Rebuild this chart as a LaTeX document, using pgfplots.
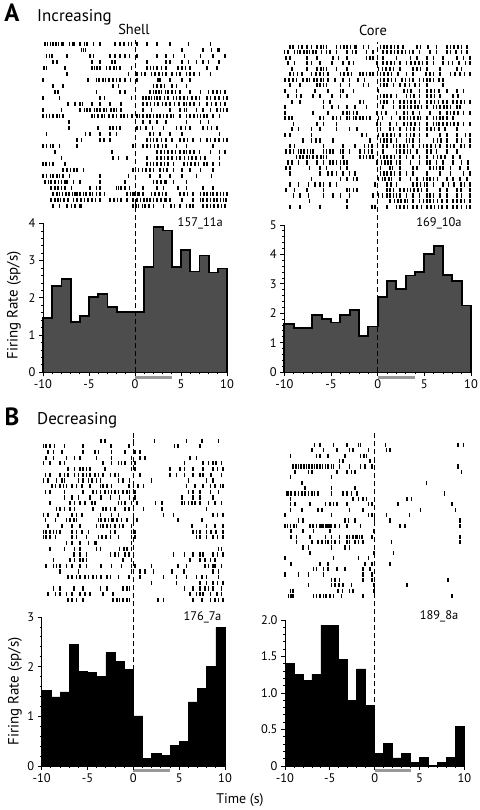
\documentclass[border=0pt]{standalone}
\usepackage{fontspec}
\setmainfont{PT Sans}
\usepackage{pgfplots}
\pgfplotsset{compat=1.18}
\definecolor{histgray}{HTML}{4D4D4D}
\definecolor{stimgray}{HTML}{999999}
\pgfplotsset{
 histax/.style={scale only axis, anchor=south west, axis x line*=bottom, axis y line*=left,
   axis line style={-, line width=0.8bp},
   xmin=-10, xmax=10, ymin=0, xtick={-10,-5,0,5,10}, minor x tick num=4, minor y tick num=4,
   tick align=outside, major tick length=4bp, minor tick length=2.2bp,
   every tick/.style={black, line width=0.8bp},
   ticklabel style={font=\fontsize{12.5}{13}\selectfont},
   /pgf/number format/assume math mode=true, clip=false, axis on top,
   ylabel style={font=\fontsize{15}{16}\selectfont, anchor=center}},
 rastax/.style={scale only axis, anchor=south west, axis lines=none, xmin=-10, xmax=10, y dir=reverse, clip=false},
 spk/.style={only marks, mark=|, mark size=2.1bp, line width=1.6bp, black},
 dashln/.style={black, line width=0.9bp, dash pattern=on 5bp off 3bp},
 stim/.style={stimgray, line width=3.5bp},
}
\begin{document}
\begin{tikzpicture}[x=1bp,y=1bp]
\useasboundingbox (0,0) rectangle (480,810);
% ---------- titles ----------
\node[font=\bfseries\fontsize{25}{25}\selectfont] at (12,797) {A};
\node[anchor=base west, inner sep=0, font=\fontsize{17}{17}\selectfont] at (37,788) {Increasing};
\node[font=\fontsize{14.5}{14.5}\selectfont] at (134,781) {Shell};
\node[font=\fontsize{14.5}{14.5}\selectfont] at (373,780) {Core};
\node[font=\bfseries\fontsize{25}{25}\selectfont] at (12,393) {B};
\node[anchor=base west, inner sep=0, font=\fontsize{17}{17}\selectfont] at (37,385) {Decreasing};
\node[font=\fontsize{14}{14}\selectfont] at (240,10) {Time (s)};

% ---------- A Shell raster ----------
\begin{axis}[rastax, at={(43bp,601.3bp)}, width=184bp, height=167.4bp, ymin=0.5, ymax=28.5]
\addplot[spk] coordinates {
(-9.8,1)(-9.5,1)(-9.2,1)(-8.9,1)(-8.6,1)(-8.3,1)(-8.0,1)(-7.8,1)(-7.1,1)(-6.8,1)(-6.6,1)(-6.0,1)(-5.5,1)(-5.2,1)(-4.5,1)(-3.8,1)(-2.2,1)(-1.6,1)(-1.2,1)(-0.7,1)(-0.4,1)(0.2,1)(1.3,1)(2.4,1)(3.8,1)(5.8,1)(8.2,1)
(-5.8,2)(-5.6,2)(-5.4,2)(5.1,2)(7.4,2)(8.3,2)(9.0,2)(9.2,2)
(-9.6,3)(-9.3,3)(-9.0,3)(-7.4,3)(-4.9,3)(-4.5,3)(-2.7,3)(-2.2,3)(-1.6,3)(-1.1,3)(-0.6,3)(0.2,3)(2.4,3)(3.4,3)(4.2,3)(5.4,3)(7.1,3)(8.5,3)(9.8,3)
(-8.9,4)(-8.5,4)(-4.7,4)(-3.8,4)(-2.5,4)(-2.2,4)(1.3,4)(3.4,4)(3.8,4)(5.1,4)(5.8,4)(6.7,4)(7.4,4)(8.0,4)(9.1,4)
(-9.9,5)(-9.6,5)(-7.6,5)(-4.7,5)(-4.4,5)(-4.1,5)(-3.8,5)(-3.1,5)(-2.7,5)(-2.3,5)(-2.0,5)(-1.6,5)(-0.4,5)(1.3,5)(1.7,5)(2.0,5)(2.4,5)(2.9,5)(3.4,5)(4.7,5)(5.1,5)(5.5,5)(6.0,5)(7.8,5)(8.9,5)
(-7.4,6)(-0.7,6)(0.2,6)(0.7,6)(1.1,6)(1.8,6)(2.2,6)(2.6,6)(3.0,6)(3.4,6)(4.0,6)(4.5,6)(4.9,6)(5.6,6)(6.0,6)(6.4,6)(7.0,6)(8.2,6)
(-10.0,7)(-5.1,7)(-4.2,7)(-3.9,7)(-3.5,7)(-3.2,7)(-2.8,7)(-2.4,7)(-2.0,7)(-1.6,7)(-1.1,7)(-0.5,7)(0.2,7)(2.5,7)(2.7,7)(3.8,7)(5.1,7)(6.0,7)
(-8.9,8)(-7.8,8)(-2.4,8)(-1.8,8)(2.0,8)(2.4,8)(2.8,8)(3.2,8)(4.0,8)(4.5,8)(5.6,8)
(-8.7,9)(-8.4,9)(-4.2,9)(-1.6,9)(-1.1,9)(1.6,9)(2.0,9)(2.3,9)(2.6,9)(2.9,9)(3.3,9)(3.6,9)(4.0,9)(4.4,9)(4.9,9)(6.0,9)(7.1,9)(8.0,9)(8.5,9)(8.9,9)(9.3,9)(9.8,9)
(-10.0,10)(-8.2,10)(-3.8,10)(-3.3,10)(-0.4,10)(0.9,10)(1.2,10)(1.5,10)(1.8,10)(2.1,10)(2.4,10)(2.7,10)(3.2,10)(3.6,10)(4.2,10)(4.5,10)(4.9,10)(5.3,10)(5.7,10)(6.2,10)(6.6,10)(7.0,10)(7.8,10)(8.2,10)(8.7,10)(9.1,10)(9.6,10)(10.0,10)
(-7.3,11)(-6.5,11)(-6.0,11)(-5.7,11)(-4.7,11)(-3.8,11)(-2.7,11)(-1.5,11)(0.9,11)(1.3,11)(1.7,11)(2.1,11)(2.5,11)(3.0,11)(3.4,11)(3.8,11)(4.3,11)(4.8,11)(5.3,11)(5.6,11)(6.0,11)(6.4,11)(7.0,11)(7.8,11)(8.3,11)(8.8,11)(9.3,11)(9.8,11)
(-10.0,12)(-8.0,12)(-6.0,12)(-5.5,12)(-5.2,12)(-4.9,12)(-4.4,12)(-4.1,12)(-3.8,12)(-3.4,12)(-3.1,12)(-2.6,12)(-2.3,12)(-2.0,12)(-1.5,12)(0.9,12)(1.8,12)(3.8,12)(4.9,12)(5.4,12)(5.6,12)(6.7,12)(7.4,12)(8.2,12)(8.9,12)(9.3,12)(9.6,12)(10.0,12)
(-10.0,13)(-9.6,13)(-9.3,13)(-8.9,13)(-8.5,13)(-8.2,13)(-7.8,13)(-4.7,13)(-4.4,13)(-4.0,13)(-3.6,13)(-3.3,13)(-2.8,13)(-2.4,13)(-2.0,13)(-1.5,13)(-1.2,13)(-0.8,13)(-0.3,13)(0.2,13)(0.5,13)(0.9,13)(1.3,13)(1.6,13)(2.0,13)(2.4,13)(2.7,13)(3.1,13)(3.5,13)(3.9,13)(4.2,13)(4.9,13)(5.6,13)(6.0,13)(6.4,13)(6.8,13)(7.1,13)(7.5,13)(7.8,13)(8.5,13)(9.2,13)
(-7.2,14)(0.9,14)(1.6,14)(2.4,14)(3.4,14)(5.6,14)(7.1,14)(8.0,14)
(-7.2,15)(-4.0,15)(-2.7,15)(-2.4,15)(-2.0,15)(-1.6,15)(0.2,15)(0.6,15)(1.2,15)(1.9,15)(3.1,15)(4.5,15)(5.0,15)(5.5,15)(6.0,15)(7.4,15)(7.9,15)(8.3,15)(8.9,15)
(-9.6,16)(-5.4,16)(-4.9,16)(-3.8,16)(-2.7,16)(-2.0,16)(1.6,16)(2.0,16)(2.7,16)(3.8,16)(5.1,16)(9.2,16)
(-6.3,17)(-5.8,17)(-3.8,17)(-3.4,17)(-2.7,17)(1.3,17)(1.7,17)(2.0,17)(2.4,17)(2.9,17)(3.4,17)(4.0,17)(4.9,17)(5.3,17)(5.7,17)(6.3,17)(7.1,17)(7.8,17)(8.2,17)(8.7,17)(9.1,17)(9.6,17)(10.0,17)
(-10.0,18)(-9.6,18)(-9.2,18)(-8.9,18)(-8.2,18)(-6.3,18)(-0.2,18)(0.9,18)(1.3,18)(1.7,18)(2.1,18)(2.5,18)(3.0,18)(3.4,18)(4.5,18)(5.6,18)(8.5,18)
(-8.7,19)(-2.5,19)(2.4,19)(2.8,19)(3.2,19)(3.6,19)(4.0,19)(4.4,19)(4.9,19)(5.3,19)(5.6,19)(6.0,19)(6.4,19)(7.0,19)(8.2,19)(9.2,19)(9.8,19)
(-8.0,20)(-2.4,20)(-1.8,20)(-0.9,20)(1.3,20)(2.4,20)(2.8,20)(3.2,20)(3.6,20)(4.0,20)(4.5,20)(4.9,20)(5.4,20)(5.8,20)(6.2,20)(6.6,20)(7.1,20)(7.6,20)(9.2,20)
(-10.0,21)(-9.7,21)(-9.3,21)(-8.9,21)(-7.6,21)(1.3,21)(1.7,21)(2.0,21)(2.4,21)(2.8,21)(3.2,21)(3.6,21)(4.2,21)(5.3,21)(5.7,21)(6.1,21)(6.5,21)(6.9,21)(7.5,21)(7.8,21)(8.5,21)(9.2,21)
(-7.8,22)(-7.4,22)(-7.0,22)(-6.6,22)(-6.3,22)(-5.6,22)(-0.2,22)(0.4,22)(0.8,22)(1.2,22)(1.6,22)(2.0,22)(2.7,22)(3.1,22)(3.5,22)(4.2,22)(5.1,22)(6.0,22)(7.1,22)(8.5,22)
(-10.0,23)(-9.6,23)(-9.2,23)(-8.9,23)(-8.5,23)(-8.2,23)(-7.8,23)(-7.1,23)(-3.8,23)(-0.7,23)(1.6,23)(2.7,23)(3.8,23)(5.1,23)(6.7,23)(8.3,23)
(-9.8,24)(-9.4,24)(-9.1,24)(-8.7,24)(-8.3,24)(-8.0,24)(-7.6,24)(-7.4,24)(-6.7,24)(-6.0,24)(-3.8,24)(-1.1,24)(2.0,24)(2.4,24)(2.8,24)(3.2,24)(3.4,24)(4.2,24)(5.6,24)
(-9.1,25)(-8.7,25)(-8.4,25)(-8.0,25)(-7.6,25)(-6.9,25)(-4.9,25)(-4.2,25)(-3.8,25)(-2.0,25)(-1.8,25)(-1.5,25)(-1.1,25)(-0.6,25)(0.9,25)(2.4,25)(3.1,25)(4.7,25)(5.6,25)(7.4,25)(8.5,25)
(-8.9,26)(-8.5,26)(-8.2,26)(-7.9,26)(-7.5,26)(-7.2,26)(-6.8,26)(-6.5,26)(-6.3,26)(-6.0,26)(-5.6,26)(-5.3,26)(-4.9,26)(-4.6,26)(-4.2,26)(-3.8,26)(-3.3,26)(-0.9,26)(-0.5,26)(-0.2,26)(0.0,26)(0.3,26)(0.5,26)(0.9,26)(1.8,26)(2.2,26)(2.6,26)(3.0,26)(3.4,26)(4.9,26)(5.3,26)(5.7,26)(6.3,26)(7.1,26)(7.5,26)(7.8,26)(8.2,26)(8.5,26)(8.9,26)(9.3,26)(9.6,26)(10.0,26)
(-9.1,27)(-8.7,27)(-8.4,27)(-8.1,27)(-7.7,27)(-7.3,27)(-6.7,27)(-6.3,27)(-5.9,27)(-5.5,27)(-5.1,27)(-4.7,27)(-4.3,27)(-3.8,27)(-2.7,27)(-2.3,27)(-1.9,27)(-1.5,27)(-0.9,27)(-0.2,27)(0.2,27)(0.6,27)(1.0,27)(1.3,27)(1.6,27)(2.0,27)(2.4,27)(2.8,27)(3.2,27)(3.4,27)(3.8,27)(5.1,27)(6.3,27)(7.1,27)(7.4,27)(7.8,27)(8.2,27)(8.6,27)(8.9,27)(9.3,27)(9.6,27)(9.9,27)
(-8.9,28)(-8.2,28)(-7.4,28)(-6.9,28)(-6.5,28)(-6.0,28)(-5.8,28)(-0.2,28)(0.1,28)(0.4,28)(0.8,28)(1.1,28)(1.5,28)(2.0,28)(3.1,28)(3.9,28)(4.3,28)(4.9,28)(5.6,28)(6.0,28)(6.3,28)(7.4,28)(7.8,28)(8.2,28)(8.6,28)(9.0,28)(9.4,28)(9.8,28)
};
\end{axis}

% ---------- A Shell histogram ----------
\begin{axis}[histax, at={(43bp,437.7bp)}, width=184bp, height=148.8bp, ymax=4, ytick={0,1,2,3,4},
  ylabel={Firing Rate (sp/s)}, ylabel style={at={(axis description cs:-0.158,0.45)}}]
\addplot[const plot, fill=histgray, draw=black, line width=1.8bp] coordinates {
(-10,0)(-10,1.47)(-9,2.33)(-8,2.51)(-7,1.36)(-6,1.51)(-5,2.03)(-4,2.11)(-3,1.75)(-2,1.63)(-1,1.63)(0,1.63)(1,2.83)(2,3.91)(3,3.81)(4,2.83)(5,3.29)(6,2.71)(7,3.14)(8,2.68)(9,2.79)(10,2.79)(10,0)};
\addplot[dashln] coordinates {(0,0)(0,8.93)};
\addplot[stim] coordinates {(0,-0.142)(4,-0.142)};
\node[font=\fontsize{12.5}{12.5}\selectfont] at (axis cs:7.1,4.0) {157\_11a};
\end{axis}

% ---------- A Core raster ----------
\begin{axis}[rastax, at={(284.3bp,600.6bp)}, width=186.7bp, height=165.5bp, ymin=0.5, ymax=30.5]
\addplot[spk] coordinates {
(-9.4,1)(-9.1,1)(-8.5,1)(-8.1,1)(-7.6,1)(-7.1,1)(-6.5,1)(-6.1,1)(-5.8,1)(-5.5,1)(-4.4,1)(-4.0,1)(-3.6,1)(-3.3,1)(-2.9,1)(-2.5,1)(-2.3,1)(-1.5,1)(-1.0,1)(0.3,1)(0.7,1)(1.0,1)(1.4,1)(1.8,1)(2.2,1)(2.7,1)(4.2,1)(4.6,1)(5.4,1)(6.3,1)(7.4,1)(7.8,1)(8.2,1)(8.6,1)(9.0,1)(9.6,1)
(-10.0,2)(-9.6,2)(-8.9,2)(-8.6,2)(-8.3,2)(-7.9,2)(-7.6,2)(-7.3,2)(-6.9,2)(-6.6,2)(-6.0,2)(-5.5,2)(-5.1,2)(-4.4,2)(-3.3,2)(-2.7,2)(-2.3,2)(-1.2,2)(-0.5,2)(0.6,2)(1.0,2)(1.4,2)(1.8,2)(2.2,2)(2.6,2)(3.0,2)(3.4,2)(3.8,2)(4.5,2)(5.6,2)(6.3,2)(7.4,2)(7.8,2)(8.4,2)(9.0,2)(9.6,2)
(-9.8,3)(-9.4,3)(-7.6,3)(-6.5,3)(-4.8,3)(-4.2,3)(-3.3,3)(-1.2,3)(-0.8,3)(-0.5,3)(0.6,3)(2.0,3)(3.5,3)(4.2,3)(5.3,3)(6.0,3)(7.0,3)(8.5,3)(9.2,3)(9.9,3)
(-9.6,4)(-8.9,4)(-7.6,4)(-7.1,4)(-6.2,4)(-4.9,4)(-3.7,4)(-3.1,4)(-2.6,4)(-0.1,4)(0.6,4)(1.0,4)(1.4,4)(1.8,4)(2.4,4)(3.1,4)(3.6,4)(4.0,4)(4.4,4)(4.8,4)(5.3,4)(6.0,4)(7.0,4)(7.6,4)(8.0,4)(8.7,4)(9.4,4)(9.9,4)
(-9.2,5)(-7.6,5)(-6.5,5)(-6.1,5)(-5.8,5)(-5.5,5)(-4.4,5)(-3.3,5)(0.1,5)(0.5,5)(0.9,5)(1.3,5)(1.7,5)(2.4,5)(3.8,5)(4.2,5)(4.6,5)(5.3,5)(6.7,5)(8.5,5)(9.0,5)
(-9.4,6)(-9.0,6)(-8.6,6)(-8.1,6)(-7.1,6)(-6.6,6)(-6.2,6)(-5.8,6)(-5.3,6)(-4.0,6)(-3.6,6)(-3.2,6)(-2.8,6)(-1.9,6)(-1.6,6)(-1.2,6)(-0.8,6)(-0.5,6)(0.3,6)(0.7,6)(1.1,6)(1.5,6)(2.2,6)(3.1,6)(3.8,6)(5.2,6)(5.6,6)(6.0,6)(6.7,6)(7.8,6)(8.3,6)(8.8,6)(9.3,6)(9.9,6)
(-9.9,7)(-9.5,7)(-9.1,7)(-8.7,7)(-8.0,7)(-7.6,7)(-7.3,7)(-6.8,7)(-6.5,7)(-6.1,7)(-5.8,7)(-5.3,7)(-4.6,7)(-3.7,7)(-3.0,7)(-2.1,7)(-1.4,7)(0.3,7)(0.7,7)(1.1,7)(1.5,7)(1.9,7)(2.6,7)(3.0,7)(3.4,7)(3.8,7)(4.5,7)(4.9,7)(5.3,7)(5.6,7)(6.0,7)(6.6,7)(7.0,7)
(-9.4,8)(-8.3,8)(-6.5,8)(-6.2,8)(-5.8,8)(-5.5,8)(-4.0,8)(-3.0,8)(-1.5,8)(-1.0,8)(0.3,8)(0.7,8)(1.0,8)(1.7,8)(2.4,8)(2.9,8)(3.4,8)(4.0,8)(4.5,8)(5.3,8)(7.0,8)
(-9.9,9)(-8.7,9)(-6.7,9)(-5.3,9)(-4.0,9)(-3.7,9)(-2.6,9)(0.1,9)(2.8,9)(3.2,9)(3.6,9)(4.5,9)(5.3,9)(5.7,9)(6.1,9)(6.6,9)(7.4,9)(8.5,9)(9.2,9)
(-9.6,10)(-8.7,10)(-8.2,10)(-6.9,10)(-6.2,10)(-4.9,10)(-4.0,10)(-3.3,10)(0.3,10)(0.7,10)(1.0,10)(1.4,10)(2.0,10)(3.1,10)(3.5,10)(3.9,10)(4.5,10)(5.3,10)(5.7,10)(6.1,10)(6.7,10)(8.1,10)(8.6,10)
(-9.2,11)(-8.3,11)(-5.8,11)(-5.1,11)(-1.9,11)(-1.5,11)(0.3,11)(0.7,11)(1.0,11)(1.7,11)(2.4,11)(2.8,11)(3.2,11)(3.6,11)(4.0,11)(4.5,11)(5.3,11)(5.7,11)(6.1,11)(6.5,11)(7.0,11)(7.4,11)(8.1,11)(8.5,11)(8.9,11)(9.3,11)(9.9,11)
(-9.9,12)(-5.8,12)(-4.9,12)(-4.2,12)(-3.3,12)(-2.4,12)(-1.2,12)(0.6,12)(1.7,12)(2.4,12)(2.8,12)(3.2,12)(3.6,12)(4.0,12)(4.3,12)(4.7,12)(5.3,12)(6.0,12)(6.3,12)(6.7,12)(7.1,12)(7.4,12)(7.8,12)(8.5,12)(8.8,12)
(-9.9,13)(-6.9,13)(-5.3,13)(-3.7,13)(-3.3,13)(-3.0,13)(-2.6,13)(-2.2,13)(-0.1,13)(0.4,13)(0.9,13)(2.0,13)(2.8,13)(3.2,13)(3.8,13)(4.5,13)(5.6,13)(6.7,13)(7.4,13)(7.8,13)(8.2,13)(8.6,13)(9.2,13)(9.9,13)
(-9.9,14)(-9.5,14)(-9.2,14)(-6.2,14)(-5.8,14)(-4.8,14)(-4.4,14)(-4.0,14)(-3.3,14)(-3.0,14)(-2.6,14)(-2.3,14)(-1.9,14)(-1.6,14)(-1.2,14)(-0.8,14)(0.1,14)(0.5,14)(1.5,14)(2.4,14)(2.8,14)(3.2,14)(3.5,14)(3.9,14)(4.3,14)(4.6,14)(5.3,14)(6.0,14)(6.3,14)(6.7,14)(7.0,14)(7.4,14)(8.1,14)
(-9.0,15)(-6.5,15)(-5.8,15)(-4.4,15)(-0.1,15)(0.3,15)(1.3,15)(2.0,15)(2.8,15)(3.2,15)(3.6,15)(4.0,15)(4.5,15)(5.3,15)(6.0,15)(6.3,15)(6.6,15)(7.0,15)(7.4,15)(7.8,15)(8.2,15)(8.6,15)(9.2,15)(9.9,15)
(-9.2,16)(-8.5,16)(-7.1,16)(-6.2,16)(-4.4,16)(-3.0,16)(-2.2,16)(0.3,16)(1.3,16)(1.7,16)(2.4,16)(3.1,16)(3.5,16)(3.9,16)(4.5,16)(5.3,16)(5.7,16)(6.1,16)(6.6,16)(7.2,16)(8.5,16)
(-9.9,17)(-9.4,17)(-7.1,17)(-1.7,17)(-1.2,17)(0.1,17)(0.6,17)(1.0,17)(1.4,17)(1.8,17)(2.4,17)(3.1,17)(3.5,17)(3.9,17)(4.5,17)(5.3,17)(6.7,17)(7.4,17)(8.5,17)(9.4,17)(9.9,17)
(-8.0,18)(-7.1,18)(-6.6,18)(-6.2,18)(-4.8,18)(-0.8,18)(0.3,18)(0.7,18)(1.0,18)(1.4,18)(2.0,18)(3.1,18)(3.4,18)(3.8,18)(4.5,18)(6.0,18)(6.4,18)(6.8,18)(7.4,18)(8.5,18)(9.0,18)(9.9,18)
(-9.4,19)(-8.9,19)(-5.8,19)(-3.7,19)(-2.4,19)(-1.4,19)(-1.0,19)(-0.6,19)(0.6,19)(1.0,19)(1.7,19)(2.0,19)(2.4,19)(2.8,19)(3.2,19)(3.8,19)(4.5,19)(4.9,19)(5.3,19)(5.7,19)(6.2,19)(6.7,19)(7.4,19)(7.8,19)(8.2,19)(8.9,19)(9.3,19)(9.9,19)
(-9.8,20)(-9.4,20)(-9.0,20)(-8.5,20)(-8.2,20)(-7.9,20)(-7.5,20)(-7.2,20)(-6.9,20)(-5.8,20)(-5.5,20)(-5.1,20)(-4.8,20)(-4.0,20)(-3.7,20)(-3.0,20)(-1.9,20)(-1.4,20)(-1.0,20)(-0.6,20)(0.6,20)(2.0,20)(2.4,20)(2.8,20)(3.2,20)(3.5,20)(4.2,20)(5.3,20)(5.7,20)(6.3,20)(7.4,20)(8.5,20)
(-8.7,21)(-8.3,21)(-8.0,21)(-7.6,21)(-7.3,21)(-6.9,21)(-6.5,21)(-6.1,21)(-5.8,21)(-5.5,21)(-3.7,21)(-1.9,21)(-1.5,21)(-1.2,21)(-0.8,21)(-0.5,21)(0.3,21)(0.7,21)(1.0,21)(1.4,21)(1.8,21)(2.4,21)(3.1,21)(3.8,21)(4.5,21)(5.3,21)(6.0,21)(6.4,21)(6.8,21)(7.2,21)(8.1,21)(8.8,21)
(-9.6,22)(-9.2,22)(-8.5,22)(-7.6,22)(-6.5,22)(-5.8,22)(-5.1,22)(-4.8,22)(-4.4,22)(-4.0,22)(-3.6,22)(-3.3,22)(-0.1,22)(0.4,22)(0.8,22)(1.1,22)(1.4,22)(2.0,22)(2.4,22)(3.5,22)(4.5,22)(5.3,22)(5.6,22)(6.3,22)(7.0,22)(8.1,22)(9.0,22)(9.7,22)
(-9.8,23)(-9.4,23)(-7.3,23)(-6.2,23)(-5.5,23)(-4.0,23)(-3.3,23)(0.3,23)(1.3,23)(1.6,23)(2.4,23)(3.8,23)(4.2,23)(5.6,23)(6.0,23)(6.3,23)(6.7,23)(7.0,23)(7.8,23)(8.8,23)(9.7,23)
(-9.4,24)(-6.2,24)(-5.3,24)(-4.9,24)(-4.4,24)(-3.7,24)(-3.0,24)(-2.4,24)(0.3,24)(0.7,24)(1.0,24)(1.4,24)(1.8,24)(2.4,24)(3.1,24)(3.8,24)(5.3,24)(6.7,24)(7.8,24)(9.2,24)(9.9,24)
(-7.1,25)(-4.0,25)(-3.3,25)(-2.6,25)(-2.2,25)(0.1,25)(0.5,25)(0.8,25)(1.2,25)(1.5,25)(2.4,25)(3.5,25)(4.2,25)(4.9,25)(5.3,25)(5.6,25)(6.0,25)(6.4,25)(7.4,25)(8.1,25)(8.8,25)(9.6,25)
(-9.4,26)(-8.5,26)(-7.4,26)(-6.7,26)(-6.2,26)(-5.8,26)(-5.1,26)(-4.4,26)(-0.3,26)(1.0,26)(1.4,26)(2.0,26)(3.8,26)(4.2,26)(4.6,26)(5.0,26)(5.3,26)(6.0,26)(7.0,26)(7.6,26)(8.2,26)(8.9,26)(9.3,26)(9.9,26)
(-9.8,27)(-8.9,27)(-7.6,27)(-5.8,27)(-3.3,27)(-3.0,27)(-2.6,27)(-2.2,27)(1.0,27)(1.3,27)(1.7,27)(2.4,27)(2.8,27)(3.2,27)(3.5,27)(3.9,27)(4.3,27)(4.7,27)(5.3,27)(6.7,27)(7.4,27)(8.5,27)(8.9,27)(9.9,27)
(-9.0,28)(-8.3,28)(-7.4,28)(-5.8,28)(-4.8,28)(-4.0,28)(-3.0,28)(-0.5,28)(0.1,28)(0.5,28)(1.0,28)(1.3,28)(1.7,28)(2.0,28)(2.4,28)(3.1,28)(3.8,28)(4.5,28)(5.3,28)(5.6,28)(6.0,28)(6.7,28)(7.4,28)(8.5,28)(9.0,28)(9.9,28)
(-7.3,29)(-3.3,29)(1.3,29)(1.8,29)(2.2,29)(2.5,29)(2.9,29)(3.2,29)(3.8,29)(4.5,29)(4.9,29)(5.3,29)(5.6,29)(6.0,29)(6.4,29)(6.9,29)(7.4,29)(8.1,29)(8.5,29)(8.9,29)(9.3,29)(9.9,29)
(-9.4,30)(-8.3,30)(-6.2,30)(-3.3,30)(-0.6,30)(-0.3,30)(1.0,30)(2.0,30)(2.4,30)(2.8,30)(3.2,30)(3.8,30)(4.2,30)(4.7,30)(5.3,30)(5.7,30)(6.1,30)(6.5,30)(6.9,30)(7.4,30)(8.1,30)(8.5,30)(9.0,30)(9.5,30)(9.9,30)
};
\end{axis}

% ---------- A Core histogram ----------
\begin{axis}[histax, at={(284.3bp,438bp)}, width=186.7bp, height=147bp, ymax=5, ytick={0,1,2,3,4,5}]
\addplot[const plot, fill=histgray, draw=black, line width=1.8bp] coordinates {
(-10,0)(-10,1.63)(-9,1.49)(-8,1.49)(-7,1.93)(-6,1.80)(-5,1.68)(-4,1.94)(-3,2.10)(-2,1.22)(-1,1.55)(0,2.55)(1,3.10)(2,2.81)(3,3.28)(4,3.41)(5,4.01)(6,4.28)(7,3.30)(8,3.10)(9,2.26)(10,2.26)(10,0)};
\addplot[dashln] coordinates {(0,0)(0,11.22)};
\addplot[stim] coordinates {(0,-0.18)(4,-0.18)};
\node[font=\fontsize{12.5}{12.5}\selectfont] at (axis cs:6.57,5.07) {169\_10a};
\end{axis}

% ---------- B Shell raster ----------
\begin{axis}[rastax, at={(41.7bp,207.2bp)}, width=183.3bp, height=165bp, ymin=0.5, ymax=29.5]
\addplot[spk] coordinates {
(-3.5,1)(-3.1,1)(0.0,1)(2.3,1)(5.8,1)(7.5,1)(9.3,1)
(-9.8,2)(-9.5,2)(-9.1,2)(-8.6,2)(-7.5,2)(-5.5,2)(-2.5,2)(-2.4,2)(-0.5,2)(4.5,2)(4.9,2)(7.3,2)
(-9.3,3)(-8.7,3)(-7.8,3)(-5.5,3)(-4.2,3)(-3.8,3)(-2.4,3)(-0.9,3)(0.2,3)(0.7,3)
(-9.5,4)(-8.7,4)(-7.3,4)(-6.4,4)(-5.8,4)(-4.0,4)(-2.4,4)(-0.2,4)(0.7,4)(1.3,4)(6.2,4)(6.9,4)
(-9.8,5)(-9.1,5)(-8.0,5)(-7.5,5)(-3.3,5)(-2.4,5)(-1.6,5)(-1.3,5)(-0.9,5)(-0.2,5)(0.2,5)(5.6,5)(7.6,5)(8.2,5)(8.7,5)(9.0,5)(9.6,5)
(-7.1,6)(-6.4,6)(-5.8,6)(-5.5,6)(-5.1,6)(-4.7,6)(-3.1,6)(-0.2,6)(0.2,6)(4.0,6)(5.1,6)(5.6,6)(6.5,6)(7.6,6)(8.7,6)(9.2,6)(9.8,6)
(-9.6,7)(-9.1,7)(-8.0,7)(-7.5,7)(-7.1,7)(-6.4,7)(-6.0,7)(-5.5,7)(-5.1,7)(-4.7,7)(-4.2,7)(-3.8,7)(-3.3,7)(-2.5,7)(-2.0,7)(-1.6,7)(0.7,7)(4.0,7)(4.7,7)(5.6,7)(6.5,7)(7.3,7)(7.6,7)(8.5,7)(9.6,7)
(-9.8,8)(-9.3,8)(-8.4,8)(-7.8,8)(-7.5,8)(-6.0,8)(-5.5,8)(-4.9,8)(-4.5,8)(-4.0,8)(-3.6,8)(-1.6,8)(-1.1,8)(-0.4,8)(2.0,8)(6.0,8)(8.0,8)(8.7,8)
(-8.9,9)(-8.5,9)(-8.0,9)(-7.6,9)(-7.3,9)(-6.7,9)(-6.2,9)(-5.6,9)(-4.7,9)(-3.6,9)(-3.3,9)(-2.9,9)(-2.4,9)(-0.5,9)(0.0,9)(0.5,9)(1.1,9)(5.8,9)(6.7,9)(7.6,9)(8.4,9)(8.9,9)(9.5,9)(9.8,9)
(-9.6,10)(-9.1,10)(-7.5,10)(-5.5,10)(-4.4,10)(-4.0,10)(-3.6,10)(-3.1,10)(-2.7,10)(-2.4,10)(-2.0,10)(-1.6,10)(-1.1,10)(-0.7,10)(-0.4,10)(0.2,10)(6.0,10)(6.5,10)(7.3,10)(8.4,10)(9.3,10)
(-7.5,11)(-6.7,11)(-6.0,11)(-4.7,11)(-3.5,11)(-2.5,11)(-1.5,11)(-0.4,11)(0.2,11)(5.3,11)(6.5,11)(7.3,11)(8.7,11)
(-9.1,12)(-6.9,12)(-6.4,12)(-5.8,12)(-5.3,12)(-4.5,12)(-4.2,12)(-1.6,12)(-1.3,12)(-0.9,12)(-0.2,12)(0.4,12)(2.4,12)(3.1,12)(5.3,12)(5.6,12)(6.0,12)(6.4,12)(6.7,12)(7.3,12)(8.2,12)(8.9,12)(9.6,12)
(-8.4,13)(-8.0,13)(-7.5,13)(-6.9,13)(-6.4,13)(-4.4,13)(-3.3,13)(-3.0,13)(-2.5,13)(-2.0,13)(-0.9,13)(-0.5,13)(0.0,13)(1.1,13)(3.1,13)(8.0,13)
(-9.8,14)(-9.3,14)(-8.2,14)(-6.7,14)(-6.2,14)(-5.6,14)(-3.6,14)(-2.4,14)(-1.6,14)(0.0,14)(3.3,14)(4.4,14)(8.7,14)(9.2,14)(9.8,14)
(-9.6,15)(-8.5,15)(-7.3,15)(-6.9,15)(-6.5,15)(-6.2,15)(-3.8,15)(-3.5,15)(-3.1,15)(-2.7,15)(-2.4,15)(-2.2,15)(-1.8,15)(-1.3,15)(-0.7,15)(0.0,15)(0.4,15)(4.9,15)(7.5,15)
(-9.3,16)(-7.8,16)(-6.7,16)(-5.8,16)(-4.0,16)(-3.6,16)(-3.3,16)(-2.9,16)(-2.5,16)(-2.0,16)(-1.5,16)(-1.1,16)(-0.2,16)(6.4,16)(8.0,16)(8.9,16)(9.8,16)
(-9.8,17)(-9.5,17)(-9.1,17)(-8.7,17)(-8.4,17)(-8.0,17)(-6.7,17)(-6.2,17)(-5.6,17)(-4.9,17)(-2.5,17)(-2.0,17)(-0.2,17)(0.2,17)(6.5,17)(6.9,17)(7.3,17)(8.0,17)(8.5,17)(9.0,17)(9.8,17)
(-9.8,18)(-9.5,18)(-9.1,18)(-8.5,18)(-6.7,18)(-6.2,18)(-5.1,18)(-3.8,18)(-3.4,18)(-3.0,18)(-2.5,18)(-1.6,18)(-0.2,18)(0.2,18)(6.9,18)(7.3,18)(8.0,18)(8.7,18)(9.2,18)(9.8,18)
(-7.3,19)(-6.7,19)(-5.8,19)(-4.9,19)(-4.2,19)(-4.0,19)(-0.2,19)
(-9.1,20)(-7.5,20)(-6.4,20)(-5.8,20)(-4.0,20)(-3.6,20)(-1.5,20)(-1.0,20)(-0.7,20)(-0.2,20)(9.3,20)(9.6,20)
(-6.5,21)(-5.8,21)(-5.1,21)(-2.5,21)(-2.0,21)(-1.6,21)(-0.9,21)(-0.5,21)(0.0,21)(4.4,21)(5.6,21)(6.5,21)(7.3,21)(7.6,21)(8.7,21)(9.2,21)(9.8,21)
(-8.7,22)(-6.9,22)(-6.4,22)(-5.8,22)(-5.5,22)(-5.1,22)(-1.1,22)(-0.2,22)(6.2,22)(7.3,22)(7.8,22)(8.4,22)(8.9,22)
(-9.5,23)(-8.7,23)(-8.4,23)(-8.0,23)(-7.3,23)(-6.7,23)(-5.8,23)(-5.1,23)(-3.5,23)(-2.4,23)(-1.3,23)(-0.2,23)(0.2,23)(2.0,23)(4.9,23)(5.8,23)(7.8,23)(8.2,23)(8.7,23)(8.9,23)(9.6,23)
(-8.0,24)(-6.0,24)(-0.2,24)(0.7,24)(1.3,24)(2.2,24)(4.2,24)(5.5,24)(8.7,24)(9.3,24)
(-7.1,25)(-6.7,25)(-6.2,25)(-5.8,25)(-5.3,25)(-4.9,25)(-4.4,25)(-4.0,25)(-3.5,25)(-2.9,25)(-2.5,25)(-1.6,25)(-0.5,25)(0.7,25)(3.3,25)(4.7,25)(5.8,25)(6.9,25)(7.5,25)(8.0,25)(9.3,25)
(2.0,26)(4.7,26)(7.3,26)(8.0,26)(8.7,26)(9.2,26)(9.8,26)
(-8.7,27)(-8.0,27)(-6.5,27)(-5.5,27)(-3.6,27)(-2.9,27)(-1.1,27)(-0.7,27)(-0.4,27)(5.6,27)(6.5,27)(7.3,27)(7.8,27)(8.2,27)(8.7,27)(9.6,27)
(-9.3,28)(-8.5,28)(-8.0,28)(-7.3,28)(-6.7,28)(-5.8,28)(-5.3,28)(-4.7,28)(-3.3,28)(-2.2,28)(6.2,28)(6.9,28)(7.3,28)(7.6,28)(8.4,28)(9.1,28)(9.6,28)
(-7.1,29)(-6.7,29)(-6.2,29)(-5.5,29)(-2.2,29)(-1.8,29)(-1.5,29)(-1.1,29)(-0.7,29)(-0.4,29)(2.7,29)(3.3,29)(6.5,29)(7.5,29)(8.4,29)(8.9,29)(9.3,29)(9.8,29)
};
\end{axis}

% ---------- B Shell histogram ----------
\begin{axis}[histax, at={(41.7bp,44bp)}, width=183.3bp, height=149bp, ymax=3, ytick={0,1,2,3},
  ylabel={Firing Rate (sp/s)}, ylabel style={at={(axis description cs:-0.146,0.5)}}]
\addplot[const plot, fill=black, draw=black, line width=0.6bp] coordinates {
(-10,0)(-10,1.53)(-9,1.39)(-8,1.49)(-7,2.45)(-6,1.91)(-5,1.88)(-4,1.80)(-3,2.28)(-2,2.11)(-1,1.94)(0,1.01)(1,0.15)(2,0.25)(3,0.21)(4,0.42)(5,0.49)(6,1.29)(7,1.56)(8,2.01)(9,2.79)(10,2.79)(10,0)};
\addplot[dashln] coordinates {(0,0)(0,6.76)};
\addplot[stim] coordinates {(0,-0.09)(4,-0.09)};
\node[font=\fontsize{12.5}{12.5}\selectfont] at (axis cs:7.54,3.0) {176\_7a};
\end{axis}

% ---------- B Core raster ----------
\begin{axis}[rastax, at={(285bp,211.3bp)}, width=179.3bp, height=156.4bp, ymin=0.5, ymax=29.5]
\addplot[spk] coordinates {
(-6.7,1)(-6.1,1)(-4.6,1)(-3.1,1)(-1.8,1)(-1.6,1)(1.2,1)(9.3,1)(9.9,1)
(-7.0,2)(-5.7,2)(-4.2,2)(-2.8,2)(-2.4,2)(-0.7,2)(1.3,2)(1.7,2)
(-9.4,3)(-6.5,3)(-6.1,3)(-5.2,3)(-3.3,3)(-1.6,3)(-1.2,3)(-0.9,3)
(-3.9,4)(-3.5,4)(-0.5,4)(0.0,4)
(-9.1,5)(-8.8,5)(-8.5,5)(-8.2,5)(-7.9,5)(-7.6,5)(-7.3,5)(-7.0,5)(-6.7,5)(-6.4,5)(-6.1,5)(-5.8,5)(-5.5,5)(-5.2,5)(-4.8,5)(-4.6,5)(-3.9,5)(-2.8,5)(-1.6,5)(-1.1,5)(-0.3,5)(9.3,5)
(-8.9,6)(-7.4,6)(-7.0,6)(-4.2,6)(-3.1,6)(-2.6,6)(-2.2,6)(9.7,6)
(-9.4,7)(-4.8,7)
(-8.1,8)(5.8,8)
(-7.8,9)(-4.8,9)(-2.2,9)
(-9.8,10)(-9.6,10)(-9.3,10)(-8.9,10)(-8.5,10)(-8.1,10)(-7.8,10)(-7.4,10)(-7.0,10)(-6.7,10)(-6.3,10)(-4.8,10)(-3.5,10)(-3.1,10)(-2.6,10)(-2.0,10)(7.8,10)
(-9.4,11)(-2.4,11)(-1.8,11)(-1.3,11)(-0.9,11)(3.6,11)(4.1,11)
(-9.4,12)(-8.9,12)(-7.2,12)(-5.5,12)(-5.0,12)(-4.6,12)(-4.2,12)(-3.1,12)(-0.7,12)(-0.3,12)(2.6,12)(8.6,12)
(-9.4,13)(-8.1,13)(-6.3,13)(-5.9,13)(-2.8,13)(-1.3,13)(5.1,13)(9.0,13)
(-10.0,14)(-4.8,14)(-0.7,14)(-0.3,14)(1.3,14)(3.9,14)
(-8.5,15)(-8.0,15)(-3.3,15)(-2.9,15)(-2.2,15)(0.0,15)(1.7,15)(9.5,15)
(-10.0,16)(-9.7,16)(-9.4,16)(-9.0,16)(-8.7,16)(-7.2,16)(-6.9,16)(-6.5,16)(-6.1,16)(-5.9,16)(-5.7,16)(-5.4,16)(-5.2,16)(-5.0,16)(-4.8,16)(-4.4,16)(-3.9,16)(-3.1,16)(-1.6,16)(2.8,16)(3.4,16)(9.5,16)
(-9.3,17)(-8.0,17)(-6.8,17)(-5.0,17)(-0.1,17)(0.0,17)
(-9.3,18)(-8.7,18)(-7.2,18)(-5.5,18)(-4.8,18)(-3.9,18)(-3.1,18)(-2.8,18)(-2.4,18)(-2.1,18)(-1.9,18)(-1.7,18)(-1.4,18)(-0.3,18)(9.5,18)
(-8.7,19)(-7.0,19)(-6.3,19)(-5.9,19)(-5.5,19)(-5.2,19)(-4.8,19)(-4.4,19)(-3.9,19)(-3.1,19)(-2.8,19)(-2.2,19)(-1.8,19)(-1.3,19)(1.9,19)(9.5,19)
(-8.0,20)(-7.4,20)(-4.8,20)(-3.3,20)(-2.8,20)
(-7.2,21)(-0.1,21)(2.1,21)
(-10.0,22)(-4.6,22)(-1.8,22)(-0.7,22)
(-9.3,23)(-6.1,23)(-5.2,23)(-1.1,23)(-0.3,23)(1.7,23)
(-6.8,24)(-6.5,24)(-5.7,24)(-5.2,24)(-4.2,24)(-3.3,24)(-1.3,24)(-0.5,24)
(-10.0,25)(-8.5,25)(-7.4,25)(-5.7,25)(-1.3,25)(-0.3,25)
(-4.8,26)(-4.4,26)(-3.9,26)(-1.3,26)(-0.3,26)(8.2,26)
(-7.4,27)(-4.8,27)(-4.4,27)(-4.0,27)(-3.5,27)(-2.6,27)(-0.1,27)(3.6,27)
(-9.4,28)(-9.1,28)(-4.1,28)(-3.6,28)(-2.8,28)(-2.4,28)(-0.1,28)
(-9.6,29)(-9.3,29)(-9.1,29)(-6.8,29)(-6.5,29)(-6.1,29)(-5.7,29)(-5.4,29)(-5.0,29)(-4.6,29)(-3.7,29)(-1.3,29)(8.6,29)
};
\end{axis}

% ---------- B Core histogram ----------
\begin{axis}[histax, at={(285bp,44bp)}, width=179.3bp, height=146bp, ymax=2, ytick={0,0.5,1,1.5,2},
  yticklabels={0,0.5,1.0,1.5,2.0}]
\addplot[const plot, fill=black, draw=black, line width=0.6bp] coordinates {
(-10,0)(-10,1.40)(-9,1.26)(-8,1.17)(-7,1.26)(-6,1.93)(-5,1.93)(-4,1.46)(-3,0.90)(-2,1.33)(-1,0.83)(0,0.17)(1,0.31)(2,0.11)(3,0.17)(4,0.05)(5,0.12)(6,0.01)(7,0.05)(8,0.12)(9,0.54)(10,0.54)(10,0)};
\addplot[dashln] coordinates {(0,0)(0,4.56)};
\addplot[stim] coordinates {(0,-0.062)(4,-0.062)};
\node[font=\fontsize{12.5}{12.5}\selectfont] at (axis cs:7.18,2.05) {189\_8a};
\end{axis}
\end{tikzpicture}
\end{document}
